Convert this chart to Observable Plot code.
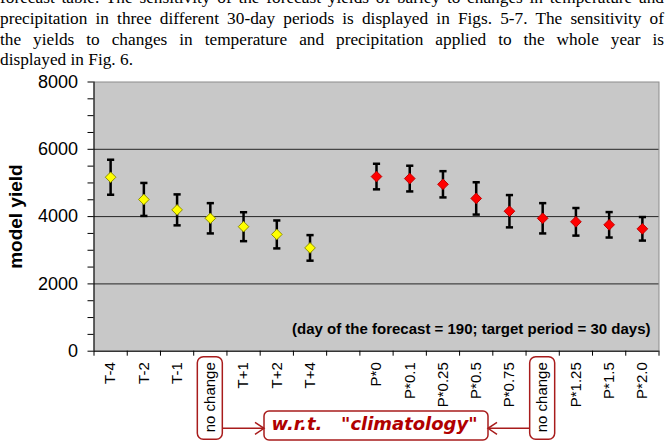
<!DOCTYPE html>
<html>
<head>
<meta charset="utf-8">
<script src="https://cdn.jsdelivr.net/npm/d3@7"></script>
<script src="https://cdn.jsdelivr.net/npm/@observablehq/plot@0.6"></script>
<style>
  body { margin: 0; background: #fff; width: 666px; height: 448px; overflow: hidden; position: relative; }
  #para { position: absolute; left: 0px; top: -11.6px; width: 664px;
          font: 17.3px "Liberation Serif", "Times New Roman", serif; line-height: 20.6px; color: #000; }
  #para div { text-align: justify; text-align-last: justify; }
  #para div.last { text-align-last: left; }
  #chart { position: absolute; left: 0; top: 72px; }
  #chart svg { overflow: visible; }
</style>
</head>
<body>
<div id="para">
  <div>forecast table. The sensitivity of the forecast yields of barley to changes in temperature and</div>
  <div>precipitation in three different 30-day periods is displayed in Figs. 5-7. The sensitivity of</div>
  <div>the yields to changes in temperature and precipitation applied to the whole year is</div>
  <div class="last">displayed in Fig. 6.</div>
</div>
<div id="chart"></div>
<script>
// Slots along the x axis (an empty slot separates the two experiments)
const labels = ["T-4", "T-2", "T-1", "no change", "T+1", "T+2", "T+4", "",
                "P*0", "P*0.1", "P*0.25", "P*0.5", "P*0.75", "no change", "P*1.25", "P*1.5", "P*2.0"];

// Temperature shifts: mean model yield and half-width of the error bar
const tempYield = [5170, 4510, 4200, 3950, 3700, 3470, 3070];
const tempErr   = [520, 490, 460, 450, 430, 415, 380];

// Precipitation multipliers: mean model yield and half-width of the error bar
const precYield = [5190, 5130, 4960, 4540, 4160, 3950, 3845, 3756, 3637];
const precErr   = [380, 382, 390, 480, 480, 450, 410, 378, 350];

const yLabelTicks = [0, 2000, 4000, 6000, 8000];
const yMax = 8000;
const note = "(day of the forecast = 190; target period = 30 days)";
const wrt = "w.r.t.   \"climatology\"";

const tempStart = 0;
const precStart = labels.indexOf("P*0");
const tempRows = tempYield.map((y, i) => ({slot: tempStart + i, y, err: tempErr[i]}));
const precRows = precYield.map((y, i) => ({slot: precStart + i, y, err: precErr[i]}));
const allRows = tempRows.concat(precRows);
const caps = allRows.flatMap(d => [{slot: d.slot, y: d.y - d.err}, {slot: d.slot, y: d.y + d.err}]);

// Horizontal bar used as the error-bar cap
const capSymbol = {
  draw(ctx, size) {
    const r = Math.sqrt(size / Math.PI);
    ctx.moveTo(-r, 0);
    ctx.lineTo(r, 0);
  }
};

const W = 666, H = 376;
const M = {top: 9.5, right: 7.5, bottom: 97.3, left: 93.5};
const cx = d => d.slot + 0.5;

const plot = Plot.plot({
  width: W,
  height: H,
  marginTop: M.top,
  marginRight: M.right,
  marginBottom: M.bottom,
  marginLeft: M.left,
  style: {fontFamily: "Arial, 'Liberation Sans', sans-serif", background: "transparent", color: "#000"},
  x: {domain: [0, labels.length]},
  y: {domain: [0, yMax]},
  marks: [
    Plot.frame({fill: "#c8c8c8", stroke: "#8c8c8c"}),
    Plot.ruleY(yLabelTicks.filter(v => v > 0 && v < yMax), {stroke: "#262626", strokeWidth: 1}),
    Plot.ruleX([0], {stroke: "#000"}),
    Plot.ruleY([0], {stroke: "#000"}),
    Plot.axisY({
      ticks: d3.range(0, yMax + 1, 500),
      tickSize: 6,
      tickPadding: 10,
      tickFormat: d => yLabelTicks.includes(d) ? String(d) : "",
      fontSize: 18,
      label: null
    }),
    Plot.axisX({ticks: d3.range(0, labels.length + 1), tickSize: 5, tickFormat: () => "", label: null}),
    Plot.axisX({
      ticks: d3.range(labels.length).map(i => i + 0.5),
      tickSize: 0,
      tickPadding: 11,
      tickRotate: -90,
      tickFormat: d => labels[Math.floor(d)],
      fontSize: 15,
      label: null
    }),
    Plot.text(["model yield"], {frameAnchor: "left", dx: -78, rotate: -90, textAnchor: "middle",
      fontWeight: "bold", fontSize: 19}),
    Plot.ruleX(allRows, {x: cx, y1: d => d.y - d.err, y2: d => d.y + d.err, stroke: "#000", strokeWidth: 2.5}),
    Plot.dot(caps, {x: cx, y: "y", symbol: capSymbol, r: 3.6, fill: "none", stroke: "#000", strokeWidth: 2.5}),
    Plot.dot(tempRows, {x: cx, y: "y", symbol: "diamond2", r: 4.8, fill: "#ffff00", stroke: "#8f8f00", strokeWidth: 1}),
    Plot.dot(precRows, {x: cx, y: "y", symbol: "diamond2", r: 4.8, fill: "#ff0000", stroke: "#c00000", strokeWidth: 1}),
    Plot.text([note], {frameAnchor: "bottom-right", dx: -8.5, dy: -17.7, textAnchor: "end", lineAnchor: "bottom",
      fontWeight: "bold", fontSize: 15, fill: "#000"})
  ]
});

document.getElementById("chart").appendChild(plot);

const svg = d3.select(plot);
const xs = plot.scale("x");
const yB = H - M.bottom;
const red = "#a81c1c";

// White box behind the forecast note
const noteText = svg.selectAll("text").filter(function() { return this.textContent === note; });
if (!noteText.empty()) {
  const node = noteText.node();
  const bb = node.getBBox();
  const g = node.closest("g") || node.parentNode;
  d3.select(g).insert("rect", ":first-child")
    .attr("x", bb.x - 2).attr("y", bb.y - 1.5)
    .attr("width", bb.width + 4).attr("height", bb.height + 4)
    .attr("fill", "#fff");
}

// "no change" boxes and the w.r.t. climatology call-out below the axis
const deco = svg.append("g").attr("fill", "none").attr("stroke", red).attr("stroke-width", 1.5);
const noChange = labels.map((l, i) => l === "no change" ? xs.apply(i + 0.5) : null).filter(v => v !== null);
noChange.forEach(c => {
  deco.append("rect").attr("x", c - 12.5).attr("y", yB + 6).attr("width", 25).attr("height", 82.6).attr("rx", 6);
});
const cm = (noChange[0] + noChange[1]) / 2;
const boxW = 224;
deco.append("rect").attr("x", cm - boxW / 2).attr("y", yB + 60.3).attr("width", boxW).attr("height", 29).attr("rx", 5);
const ay = yB + 77.6;
// left arrow: from first box to the call-out
const l0 = noChange[0] + 12.5, l1 = cm - boxW / 2;
deco.append("line").attr("x1", l0).attr("x2", l1).attr("y1", ay).attr("y2", ay);
deco.append("polyline").attr("points", `${l1 - 9},${ay - 6} ${l1},${ay} ${l1 - 9},${ay + 6}`);
// right arrow: from second box to the call-out
const r0 = noChange[1] - 12.5, r1 = cm + boxW / 2;
deco.append("line").attr("x1", r0).attr("x2", r1).attr("y1", ay).attr("y2", ay);
deco.append("polyline").attr("points", `${r1 + 9},${ay - 6} ${r1},${ay} ${r1 + 9},${ay + 6}`);

svg.append("text")
  .attr("x", cm - 1.5).attr("y", yB + 79.3)
  .attr("text-anchor", "middle")
  .attr("fill", "#b00000")
  .attr("font-family", "'Comic Sans MS', 'DejaVu Sans', sans-serif")
  .attr("font-weight", "bold").attr("font-style", "italic").attr("font-size", 18)
  .attr("textLength", 206).attr("lengthAdjust", "spacingAndGlyphs")
  .style("white-space", "pre")
  .text(wrt);
</script>
</body>
</html>
